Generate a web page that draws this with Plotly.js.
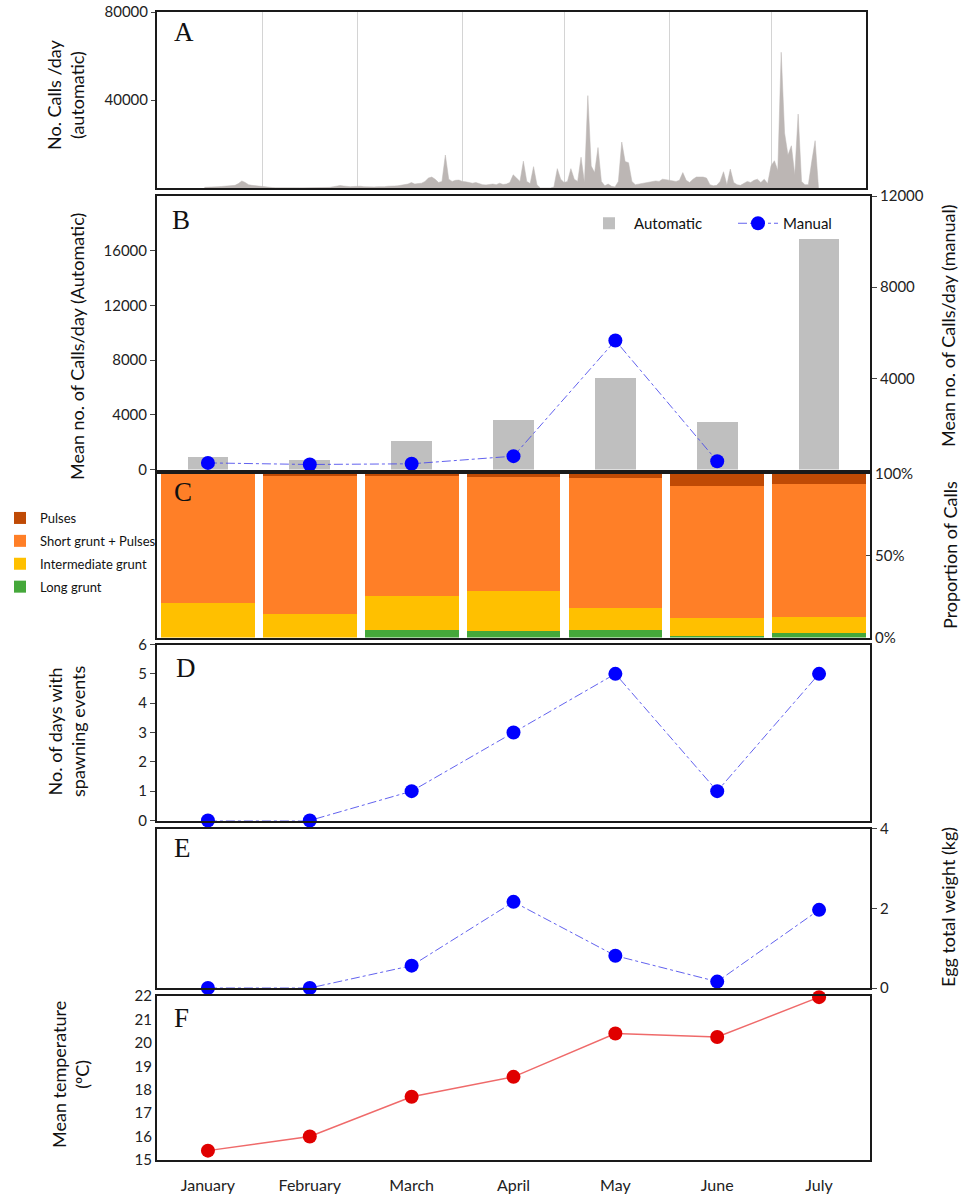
<!DOCTYPE html>
<html>
<head>
<meta charset="utf-8">
<script src="https://cdn.plot.ly/plotly-3.0.1.min.js"></script>
<style>
body { margin: 0; background: #fff; }
#chart { width: 963px; height: 1200px; }
</style>
</head>
<body>
<div id="chart"></div>
<script>
// ---- data ----
var months = ['January', 'February', 'March', 'April', 'May', 'June', 'July'];

// panel A: daily automatic call counts, from 15 Jan onwards
var firstDay = '2019-01-15';
var dailyCalls = [
    // Jan 15-31
    300, 300, 400, 500, 600, 700, 800, 900, 1000, 1200, 2000, 3200, 2500, 1500, 1200, 1000, 900,
    // Feb
    800, 600, 300, 200, 150, 100, 100, 100, 100, 100, 100, 100, 100, 100, 100, 150, 150, 200, 200, 250,
    300, 600, 900, 1100, 900, 700, 600, 700,
    // Mar
    900, 800, 600, 500, 400, 500, 600, 500, 600, 800, 700, 900, 1000, 1200, 1500, 1800, 2500, 1800, 2000,
    2200, 3000, 4500, 5000, 4000, 2500, 3000, 15000, 4000, 3000, 3500, 3600,
    // Apr
    3000, 2800, 2500, 2200, 2500, 2000, 1500, 1400, 1500, 1800, 1500, 2200, 1600, 1800, 2500, 6000, 4500,
    3000, 12200, 3000, 2000, 9700, 1500, 0, 0, 0, 0, 500, 8800, 4000,
    // May
    2500, 3000, 8800, 4000, 3000, 14000, 2500, 42000, 10000, 7000, 18400, 3000, 1000, 1800, 800, 500, 3000,
    20900, 12000, 11500, 3000, 1500, 1800, 2200, 2500, 2500, 2800, 3200, 3000, 4000, 3800,
    // Jun
    3500, 3000, 3000, 3500, 7000, 3500, 2500, 4000, 5000, 5000, 5000, 4500, 1500, 1000, 1200, 3000, 7400,
    1500, 8600, 2500, 1500, 1200, 2000, 3000, 2500, 3500, 4000, 2500, 4000, 2000,
    // Jul 1-15
    10000, 12400, 8000, 61700, 25000, 15000, 19200, 6000, 33600, 3000, 1500, 1500, 12000, 21500, 0
];

// panel B
var autoMean = [900, 660, 2080, 3650, 6660, 3470, 16860];
var manualMean = [290, 220, 250, 585, 5660, 365, null];

// panel C (percent of calls)
var longGrunt = [0, 0, 4.5, 4.0, 4.6, 1.0, 2.9];
var interGrunt = [20.9, 14.3, 21.0, 24.5, 13.2, 10.7, 9.4];
var shortPulses = [78.8, 84.2, 73.0, 69.5, 79.7, 80.7, 81.1];
var pulses = [0.3, 1.5, 1.5, 2.0, 2.5, 7.6, 6.6];

// panels D, E, F
var spawnDays = [0, 0, 1, 3, 5, 1, 5];
var eggWeight = [0, 0, 0.56, 2.16, 0.81, 0.16, 1.96];
var meanTemp = [15.4, 16.0, 17.7, 18.55, 20.4, 20.25, 21.95];

// ---- build the daily dates ----
var dailyDates = [];
var d0 = new Date(firstDay + 'T00:00:00Z');
for (var i = 0; i < dailyCalls.length; i++) {
    var d = new Date(d0.getTime() + i * 86400000);
    dailyDates.push(d.toISOString().slice(0, 10));
}

// ---- geometry helpers (pixel -> paper) ----
function px(x) { return x / 963; }
function py(y) { return 1 - y / 1200; }

var xLeft = px(157), xRight = px(870);
var tickFont = { family: 'Lato, sans-serif', size: 15, color: '#222' };
var titleFont = { family: 'Lato, sans-serif', size: 18, color: '#111' };
var blue = '#0000ff';
var dotLine = { color: 'rgba(70,70,235,0.85)', width: 1, dash: 'dashdot' };

function frameAxis(extra) {
    var base = {
        showline: true, mirror: true, linecolor: '#1a1a1a', linewidth: 2,
        zeroline: false, showgrid: false, fixedrange: true, tickfont: tickFont,
        tickformat: 'd'
    };
    for (var k in extra) base[k] = extra[k];
    return base;
}

function monthAxis(anchor, extra) {
    var ax = frameAxis({
        type: 'category', categoryarray: months, range: [-0.5, 6.5],
        anchor: anchor, domain: [xLeft, xRight], showticklabels: false, ticks: ''
    });
    delete ax.tickformat;
    for (var k in extra) ax[k] = extra[k];
    return ax;
}

function smallLegend(x, y, extra) {
    var lg = {
        orientation: 'v', x: px(x), y: py(y), xanchor: 'left', yanchor: 'top',
        bgcolor: 'rgba(0,0,0,0)', traceorder: 'normal',
        font: { family: 'Lato, sans-serif', size: 15, color: '#111' }, itemwidth: 40
    };
    for (var k in extra) lg[k] = extra[k];
    return lg;
}

var traces = [
    // A
    {
        x: dailyDates, y: dailyCalls, type: 'scatter', mode: 'lines', fill: 'tozeroy',
        line: { color: '#bcb6b4', width: 0.5 }, fillcolor: '#bcb6b4',
        xaxis: 'x', yaxis: 'y', showlegend: false
    },
    // B
    {
        x: months, y: autoMean, type: 'bar', name: 'Automatic', width: 0.4,
        marker: { color: '#bfbfbf' }, xaxis: 'x2', yaxis: 'y2', legend: 'legend'
    },
    {
        x: months, y: manualMean, type: 'scatter', mode: 'lines+markers', name: 'Manual',
        line: dotLine, marker: { color: blue, size: 14 }, cliponaxis: false,
        xaxis: 'x2', yaxis: 'y3', legend: 'legend3'
    },
    // C
    {
        x: months, y: longGrunt, type: 'bar', name: 'Long grunt', width: 0.92,
        marker: { color: '#45a83a' }, xaxis: 'x3', yaxis: 'y4', legend: 'legend2',
        legendgroup: 'c4', legendrank: 4
    },
    {
        x: months, y: interGrunt, type: 'bar', name: 'Intermediate grunt', width: 0.92,
        marker: { color: '#ffc000' }, xaxis: 'x3', yaxis: 'y4', legend: 'legend2',
        legendgroup: 'c3', legendrank: 3
    },
    {
        x: months, y: shortPulses, type: 'bar', name: 'Short grunt + Pulses', width: 0.92,
        marker: { color: '#ff7f27' }, xaxis: 'x3', yaxis: 'y4', legend: 'legend2',
        legendgroup: 'c2', legendrank: 2
    },
    {
        x: months, y: pulses, type: 'bar', name: 'Pulses', width: 0.92,
        marker: { color: '#bf4a05' }, xaxis: 'x3', yaxis: 'y4', legend: 'legend2',
        legendgroup: 'c1', legendrank: 1
    },
    // D
    {
        x: months, y: spawnDays, type: 'scatter', mode: 'lines+markers',
        line: dotLine, marker: { color: blue, size: 14 }, cliponaxis: false,
        xaxis: 'x4', yaxis: 'y5', showlegend: false
    },
    // E
    {
        x: months, y: eggWeight, type: 'scatter', mode: 'lines+markers',
        line: dotLine, marker: { color: blue, size: 14 }, cliponaxis: false,
        xaxis: 'x5', yaxis: 'y6', showlegend: false
    },
    // F
    {
        x: months, y: meanTemp, type: 'scatter', mode: 'lines+markers',
        line: { color: '#ef6a6a', width: 1.5 }, marker: { color: '#e00000', size: 14 }, cliponaxis: false,
        xaxis: 'x6', yaxis: 'y7', showlegend: false
    }
];

function panelLabel(letter, x, y) {
    return {
        text: letter, xref: 'paper', yref: 'paper', x: px(x), y: py(y),
        xanchor: 'left', yanchor: 'middle', showarrow: false,
        font: { family: 'Liberation Serif, serif', size: 27, color: '#111' }
    };
}

function sideTitle(text, x, y) {
    return {
        text: text, xref: 'paper', yref: 'paper', x: px(x), y: py(y),
        xanchor: 'center', yanchor: 'middle', showarrow: false, textangle: -90,
        font: titleFont
    };
}

var layout = {
    width: 963, height: 1200,
    margin: { l: 0, r: 0, t: 0, b: 0 },
    paper_bgcolor: '#fff', plot_bgcolor: '#fff',
    barmode: 'stack',
    hovermode: false,

    // A
    xaxis: frameAxis({
        type: 'date', range: ['2019-01-01', '2019-07-29'], domain: [xLeft, px(866)],
        anchor: 'y', tick0: '2019-01-01', dtick: 'M1', showgrid: true, gridcolor: '#d4d4d4',
        gridwidth: 1, showticklabels: false, ticks: '', layer: 'below traces', tickformat: ''
    }),
    yaxis: frameAxis({
        domain: [py(188), py(12)], range: [0, 80000], tickvals: [40000, 80000],
        ticks: 'outside', ticklen: 4, anchor: 'x'
    }),

    // B
    xaxis2: monthAxis('y2'),
    yaxis2: frameAxis({
        domain: [py(469.5), py(196)], range: [0, 20000],
        tickvals: [0, 4000, 8000, 12000, 16000], ticks: 'outside', ticklen: 5, anchor: 'x2'
    }),
    yaxis3: frameAxis({
        overlaying: 'y2', side: 'right', range: [0, 12000], mirror: false,
        tickvals: [4000, 8000, 12000], ticks: 'outside', ticklen: 5, anchor: 'x2'
    }),

    // C
    xaxis3: monthAxis('y4'),
    yaxis4: frameAxis({
        domain: [py(637.5), py(473.5)], range: [0, 100], side: 'right',
        tickvals: [0, 50, 100], ticktext: ['0%', '50%', '100%'],
        ticks: 'inside', ticklen: 4, anchor: 'x3'
    }),

    // D
    xaxis4: monthAxis('y5'),
    yaxis5: frameAxis({
        domain: [py(820.5), py(644.5)], range: [0, 6], dtick: 1,
        ticks: 'outside', ticklen: 5, anchor: 'x4'
    }),

    // E
    xaxis5: monthAxis('y6'),
    yaxis6: frameAxis({
        domain: [py(988), py(828.5)], range: [0, 4], side: 'right',
        tickvals: [0, 2, 4], ticks: 'outside', ticklen: 5, anchor: 'x5'
    }),

    // F
    xaxis6: monthAxis('y7', {
        showticklabels: true, ticks: 'outside', ticklen: 10, tickcolor: 'rgba(0,0,0,0)',
        tickfont: { family: 'Lato, sans-serif', size: 16, color: '#222' }
    }),
    yaxis7: frameAxis({
        domain: [py(1160), py(996)], range: [15, 22], dtick: 1,
        ticks: '', anchor: 'x6'
    }),

    legend: smallLegend(584, 207),
    legend3: smallLegend(733, 207),
    legend2: smallLegend(0, 503, {
        traceorder: 'grouped', itemwidth: 30, tracegroupgap: 3,
        font: { family: 'Lato, sans-serif', size: 13, color: '#111' }
    }),

    annotations: [
        panelLabel('A', 172, 32),
        panelLabel('B', 170, 220),
        panelLabel('C', 172, 492),
        panelLabel('D', 174, 668),
        panelLabel('E', 172, 848),
        panelLabel('F', 172, 1018),
        sideTitle('No. Calls /day<br>(automatic)', 66, 95),
        sideTitle('Mean no. of Calls/day (Automatic)', 77, 347),
        sideTitle('Mean no. of Calls/day (manual)', 948, 326),
        sideTitle('Proportion of Calls', 950, 555),
        sideTitle('No. of days with<br>spawning events', 66, 731),
        sideTitle('Egg total weight (kg)', 948, 907),
        sideTitle('Mean temperature<br>(ºC)', 70, 1075)
    ]
};

Plotly.newPlot('chart', traces, layout, { displayModeBar: false, staticPlot: true });
</script>
</body>
</html>
